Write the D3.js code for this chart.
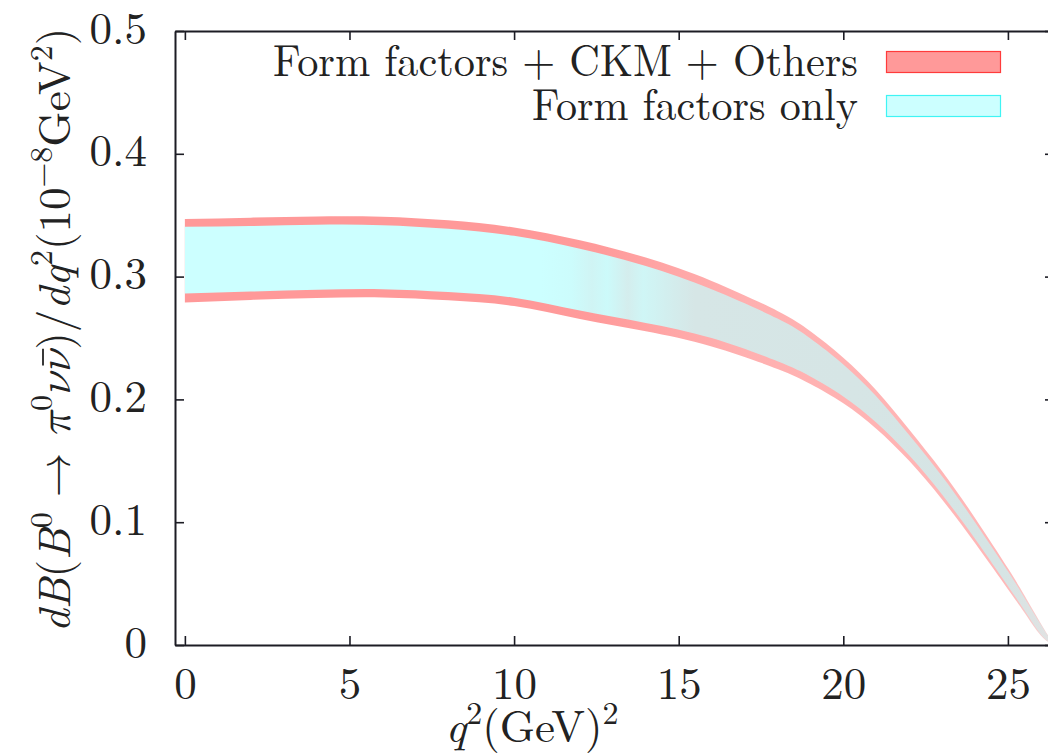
<!DOCTYPE html>
<html>
<head>
<meta charset="utf-8">
<script src="https://cdn.jsdelivr.net/npm/d3@7"></script>
<style>
  html, body { margin: 0; padding: 0; background: #fff; }
  svg { display: block; }
</style>
</head>
<body>
<svg id="grafico" width="1048" height="754"></svg>
<script>
// q^2 sample points (GeV^2)
const q2 = [0, 2, 4, 6, 8, 10, 12, 14, 16, 18, 19, 20, 21, 22, 23, 24, 25, 25.5, 26, 26.4];

// band: form factors + CKM + others (outer)
const outerUpper = [0.347, 0.348, 0.349, 0.3487, 0.3458, 0.340, 0.3295, 0.3155, 0.2965, 0.272, 0.2555, 0.234, 0.2075, 0.1755, 0.1415, 0.1035, 0.0625, 0.0405, 0.0175, 0];
const outerLower = [0.279, 0.281, 0.2825, 0.283, 0.2807, 0.276, 0.2655, 0.2555, 0.2431, 0.2248, 0.2126, 0.1969, 0.1762, 0.150, 0.1185, 0.083, 0.0455, 0.0265, 0.0078, 0];

// band: form factors only (inner)
const innerUpper = [0.3405, 0.3412, 0.3422, 0.3419, 0.339, 0.3332, 0.3227, 0.3087, 0.2897, 0.2658, 0.2495, 0.2285, 0.2025, 0.171, 0.1375, 0.100, 0.060, 0.0385, 0.0165, 0];
const innerLower = [0.2862, 0.2878, 0.2893, 0.2898, 0.2875, 0.2828, 0.2723, 0.2623, 0.2499, 0.231, 0.2186, 0.2024, 0.1812, 0.1545, 0.1225, 0.0865, 0.048, 0.0285, 0.0088, 0];

const xTicks = [0, 5, 10, 15, 20, 25];
const yTicks = [0, 0.1, 0.2, 0.3, 0.4, 0.5];
const legendLabels = ["Form factors + CKM + Others", "Form factors only"];

const FONTE = "'Latin Modern Roman', 'Latin Modern Math', 'Liberation Serif', 'DejaVu Serif', serif";

const W = 1048;
const H = 754;
const margin = { top: 31, right: -6, bottom: 109, left: 175 };
const plotW = W - margin.left - margin.right;
const plotH = H - margin.top - margin.bottom;

const x = d3.scaleLinear().domain([-0.3, 26.4]).range([0, plotW]);
const y = d3.scaleLinear().domain([0, 0.5]).range([plotH, 0]);

const svg = d3.select("#grafico");
const defs = svg.append("defs");

// colour drift of the bands toward high q^2 (as in the gnuplot output)
function gradiente(id, stops) {
  const lg = defs.append("linearGradient")
    .attr("id", id)
    .attr("gradientUnits", "userSpaceOnUse")
    .attr("x1", x(10.8)).attr("x2", x(26.4))
    .attr("y1", 0).attr("y2", 0);
  stops.forEach(([o, c]) => lg.append("stop").attr("offset", o).attr("stop-color", c));
}
gradiente("gradVermelho", [[0, "#ff9999"], [0.12, "#ff9b9b"], [0.25, "#ffa6a6"], [0.4, "#ffb0b0"], [0.9, "#ffb8b8"], [1, "#f2d8d8"]]);
gradiente("gradCiano", [[0, "#ccffff"], [0.06, "#ccfcfc"], [0.1, "#d0f4f4"], [0.13, "#ccfafa"], [0.17, "#d4eded"], [0.2, "#cff6f6"], [0.3, "#d6e6e6"], [0.9, "#d6e4e4"], [1, "#e2e2e2"]]);

const g = svg.append("g").attr("transform", `translate(${margin.left},${margin.top})`);

const areaFora = d3.area()
  .x((d, i) => x(q2[i]))
  .y0((d, i) => y(outerLower[i]))
  .y1((d, i) => y(outerUpper[i]))
  .curve(d3.curveNatural);

const areaDentro = d3.area()
  .x((d, i) => x(q2[i]))
  .y0((d, i) => y(innerLower[i]))
  .y1((d, i) => y(innerUpper[i]))
  .curve(d3.curveNatural);

g.append("path").datum(q2).attr("fill", "url(#gradVermelho)").attr("d", areaFora);
g.append("path").datum(q2).attr("fill", "url(#gradCiano)").attr("d", areaDentro);

// axes, gnuplot style: ticks inside on all four sides
const eixo = (sel) => {
  sel.select(".domain").attr("stroke", "#1c1c24").attr("stroke-width", 2);
  sel.selectAll(".tick line").attr("stroke", "#1c1c24").attr("stroke-width", 1.6);
};
const rotulos = (sel) => sel.selectAll("text")
  .style("font-family", FONTE)
  .style("font-size", "45px")
  .attr("fill", "#222");

g.append("g")
  .attr("transform", `translate(0,${plotH})`)
  .call(d3.axisBottom(x).tickValues(xTicks).tickSize(-9).tickSizeOuter(0).tickPadding(22).tickFormat(d3.format("d")))
  .call(eixo)
  .call(rotulos);

g.append("g")
  .call(d3.axisTop(x).tickValues(xTicks).tickSize(-9).tickSizeOuter(0).tickFormat(""))
  .call(eixo);

g.append("g")
  .call(d3.axisLeft(y).tickValues(yTicks).tickSize(-9).tickSizeOuter(0).tickPadding(28).tickFormat((d) => d === 0 ? "0" : d3.format(".1f")(d)))
  .call(eixo)
  .call(rotulos)
  .call((sel) => sel.selectAll("text").attr("dy", "0.27em"));

g.append("g")
  .attr("transform", `translate(${plotW},0)`)
  .call(d3.axisRight(y).tickValues(yTicks).tickSize(-9).tickSizeOuter(0).tickFormat(""))
  .call(eixo);

// legend
const legenda = [
  { texto: legendLabels[0], fill: "#ff9999", stroke: "#ff3b3b", cy: 62, largura: 585 },
  { texto: legendLabels[1], fill: "#ccffff", stroke: "#3ff4f4", cy: 106, largura: 326 }
];
legenda.forEach((l) => {
  svg.append("text")
    .attr("x", 858).attr("y", l.cy + 14)
    .attr("text-anchor", "end")
    .style("font-family", FONTE)
    .style("font-size", "45px")
    .attr("fill", "#222")
    .attr("textLength", l.largura)
    .attr("lengthAdjust", "spacingAndGlyphs")
    .text(l.texto);
  svg.append("rect")
    .attr("x", 886.5).attr("y", l.cy - 10.5)
    .attr("width", 114).attr("height", 21)
    .attr("fill", l.fill)
    .attr("stroke", l.stroke)
    .attr("stroke-width", 1.2);
});

// x label: q^2 (GeV)^2
const xl = svg.append("text")
  .attr("x", 532).attr("y", 742)
  .attr("text-anchor", "middle")
  .style("font-family", FONTE)
  .style("font-size", "45px")
  .attr("fill", "#222");
xl.append("tspan").style("font-style", "italic").text("q");
xl.append("tspan").attr("dy", -18).style("font-size", "32px").text("2");
xl.append("tspan").attr("dy", 18).text("(GeV)");
xl.append("tspan").attr("dy", -18).style("font-size", "32px").text("2");

// y label: dB(B0 -> pi0 nu nubar)/dq2 (10^-8 GeV^2)
const gy = svg.append("g").attr("transform", "translate(70,330) rotate(-90)");
const yl = gy.append("text")
  .attr("text-anchor", "middle")
  .style("font-family", FONTE)
  .style("font-size", "45px")
  .attr("fill", "#222");
const partes = [
  ["dB", "i", 0], ["(", "", 0], ["B", "i", 0], ["0", "", 1], [" \u2192 ", "", 0],
  ["\u03c0", "i", 0], ["0", "", 1], ["\u03bd", "i", 0], ["\u03bd", "b", 0], [")/", "", 0],
  ["dq", "i", 0], ["2", "", 1], ["(10", "", 0], ["\u22128", "", 1], ["GeV", "", 0], ["2", "", 1], [")", "", 0]
];
let sup = 0;
let idxBarra = -1;
let n = 0;
partes.forEach(([t, estilo, s]) => {
  const ts = yl.append("tspan").text(t);
  if (estilo === "i" || estilo === "b") ts.style("font-style", "italic");
  if (estilo === "b") idxBarra = n;
  if (s !== sup) ts.attr("dy", s ? -18 : 18);
  if (s) ts.style("font-size", "32px");
  sup = s;
  n += t.length;
});
// bar over the anti-neutrino
const ext = yl.node().getExtentOfChar(idxBarra);
gy.append("line")
  .attr("x1", ext.x + ext.width * 0.3).attr("x2", ext.x + ext.width * 1.05)
  .attr("y1", -27).attr("y2", -27)
  .attr("stroke", "#222").attr("stroke-width", 1.8);
</script>
</body>
</html>
